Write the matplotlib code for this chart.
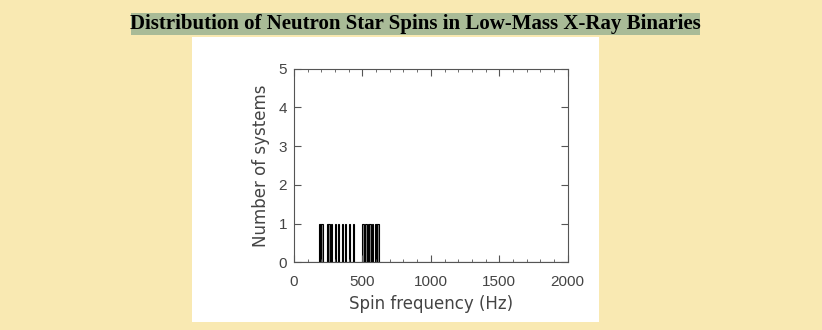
import numpy as np
import matplotlib.pyplot as plt
from matplotlib.patches import Rectangle

# spin frequencies (Hz), one system per bin
spins = [182, 191, 201, 245, 254, 270, 307, 324, 351, 370,
         401, 435, 509, 529, 543, 558, 578, 592, 607, 619]
bin_width = 10
x_ticks = [0, 500, 1000, 1500, 2000]
y_ticks = [0, 1, 2, 3, 4, 5]

title = "Distribution of Neutron Star Spins in Low-Mass X-Ray Binaries"

W, H = 822, 330
fig = plt.figure(figsize=(W / 100, H / 100), dpi=100)
fig.patch.set_facecolor("#f9e9b2")

# white image panel
fig.patches.append(Rectangle((192 / W, 1 - 321.5 / H), (599 - 192) / W, (321.5 - 36.5) / H,
                             transform=fig.transFigure, facecolor="white",
                             edgecolor="none", zorder=-1))

# title highlight box
fig.patches.append(Rectangle((130.5 / W, 1 - 35 / H), (700 - 130.5) / W, 22 / H,
                             transform=fig.transFigure, facecolor="#a9bb97",
                             edgecolor="none", zorder=-1))
fig.text(415 / W, 1 - 23.5 / H, title, ha="center", va="center",
         family="Liberation Serif", weight="bold", fontsize=15, color="black")

ax = fig.add_axes([294 / W, 1 - 262.3 / H, 273.7 / W, 193.6 / H], zorder=2)
ax.set_facecolor("white")

bins = np.arange(0, 2000 + bin_width, bin_width)
ax.hist(spins, bins=bins, histtype="bar", rwidth=1.0, facecolor="#8a8a8a",
        edgecolor="black", linewidth=0.8)

ax.set_xlim(0, 2000)
ax.set_ylim(0, 5)
ax.set_xticks(x_ticks)
ax.set_xticks(np.arange(0, 2001, 100), minor=True)
ax.set_yticks(y_ticks)

tick_font = dict(family="Liberation Sans", size=11, color="#444444")
ax.set_xticklabels([str(t) for t in x_ticks], **tick_font)
ax.set_yticklabels([str(t) for t in y_ticks], **tick_font)
ax.tick_params(which="both", direction="in", top=True, right=True, color="#555555")
ax.tick_params(which="major", length=5, width=0.8)
ax.tick_params(which="minor", length=2.5, width=0.6)
ax.tick_params(axis="x", pad=9.5)
ax.tick_params(axis="y", pad=5)

for s in ax.spines.values():
    s.set_color("#555555")
    s.set_linewidth(0.8)

label_font = dict(family="DejaVu Sans", size=12, color="#444444")
ax.set_xlabel("Spin frequency (Hz)", labelpad=4, **label_font)
ax.set_ylabel("Number of systems", labelpad=6, **label_font)

fig.savefig("out.png", dpi=100, facecolor=fig.get_facecolor())
